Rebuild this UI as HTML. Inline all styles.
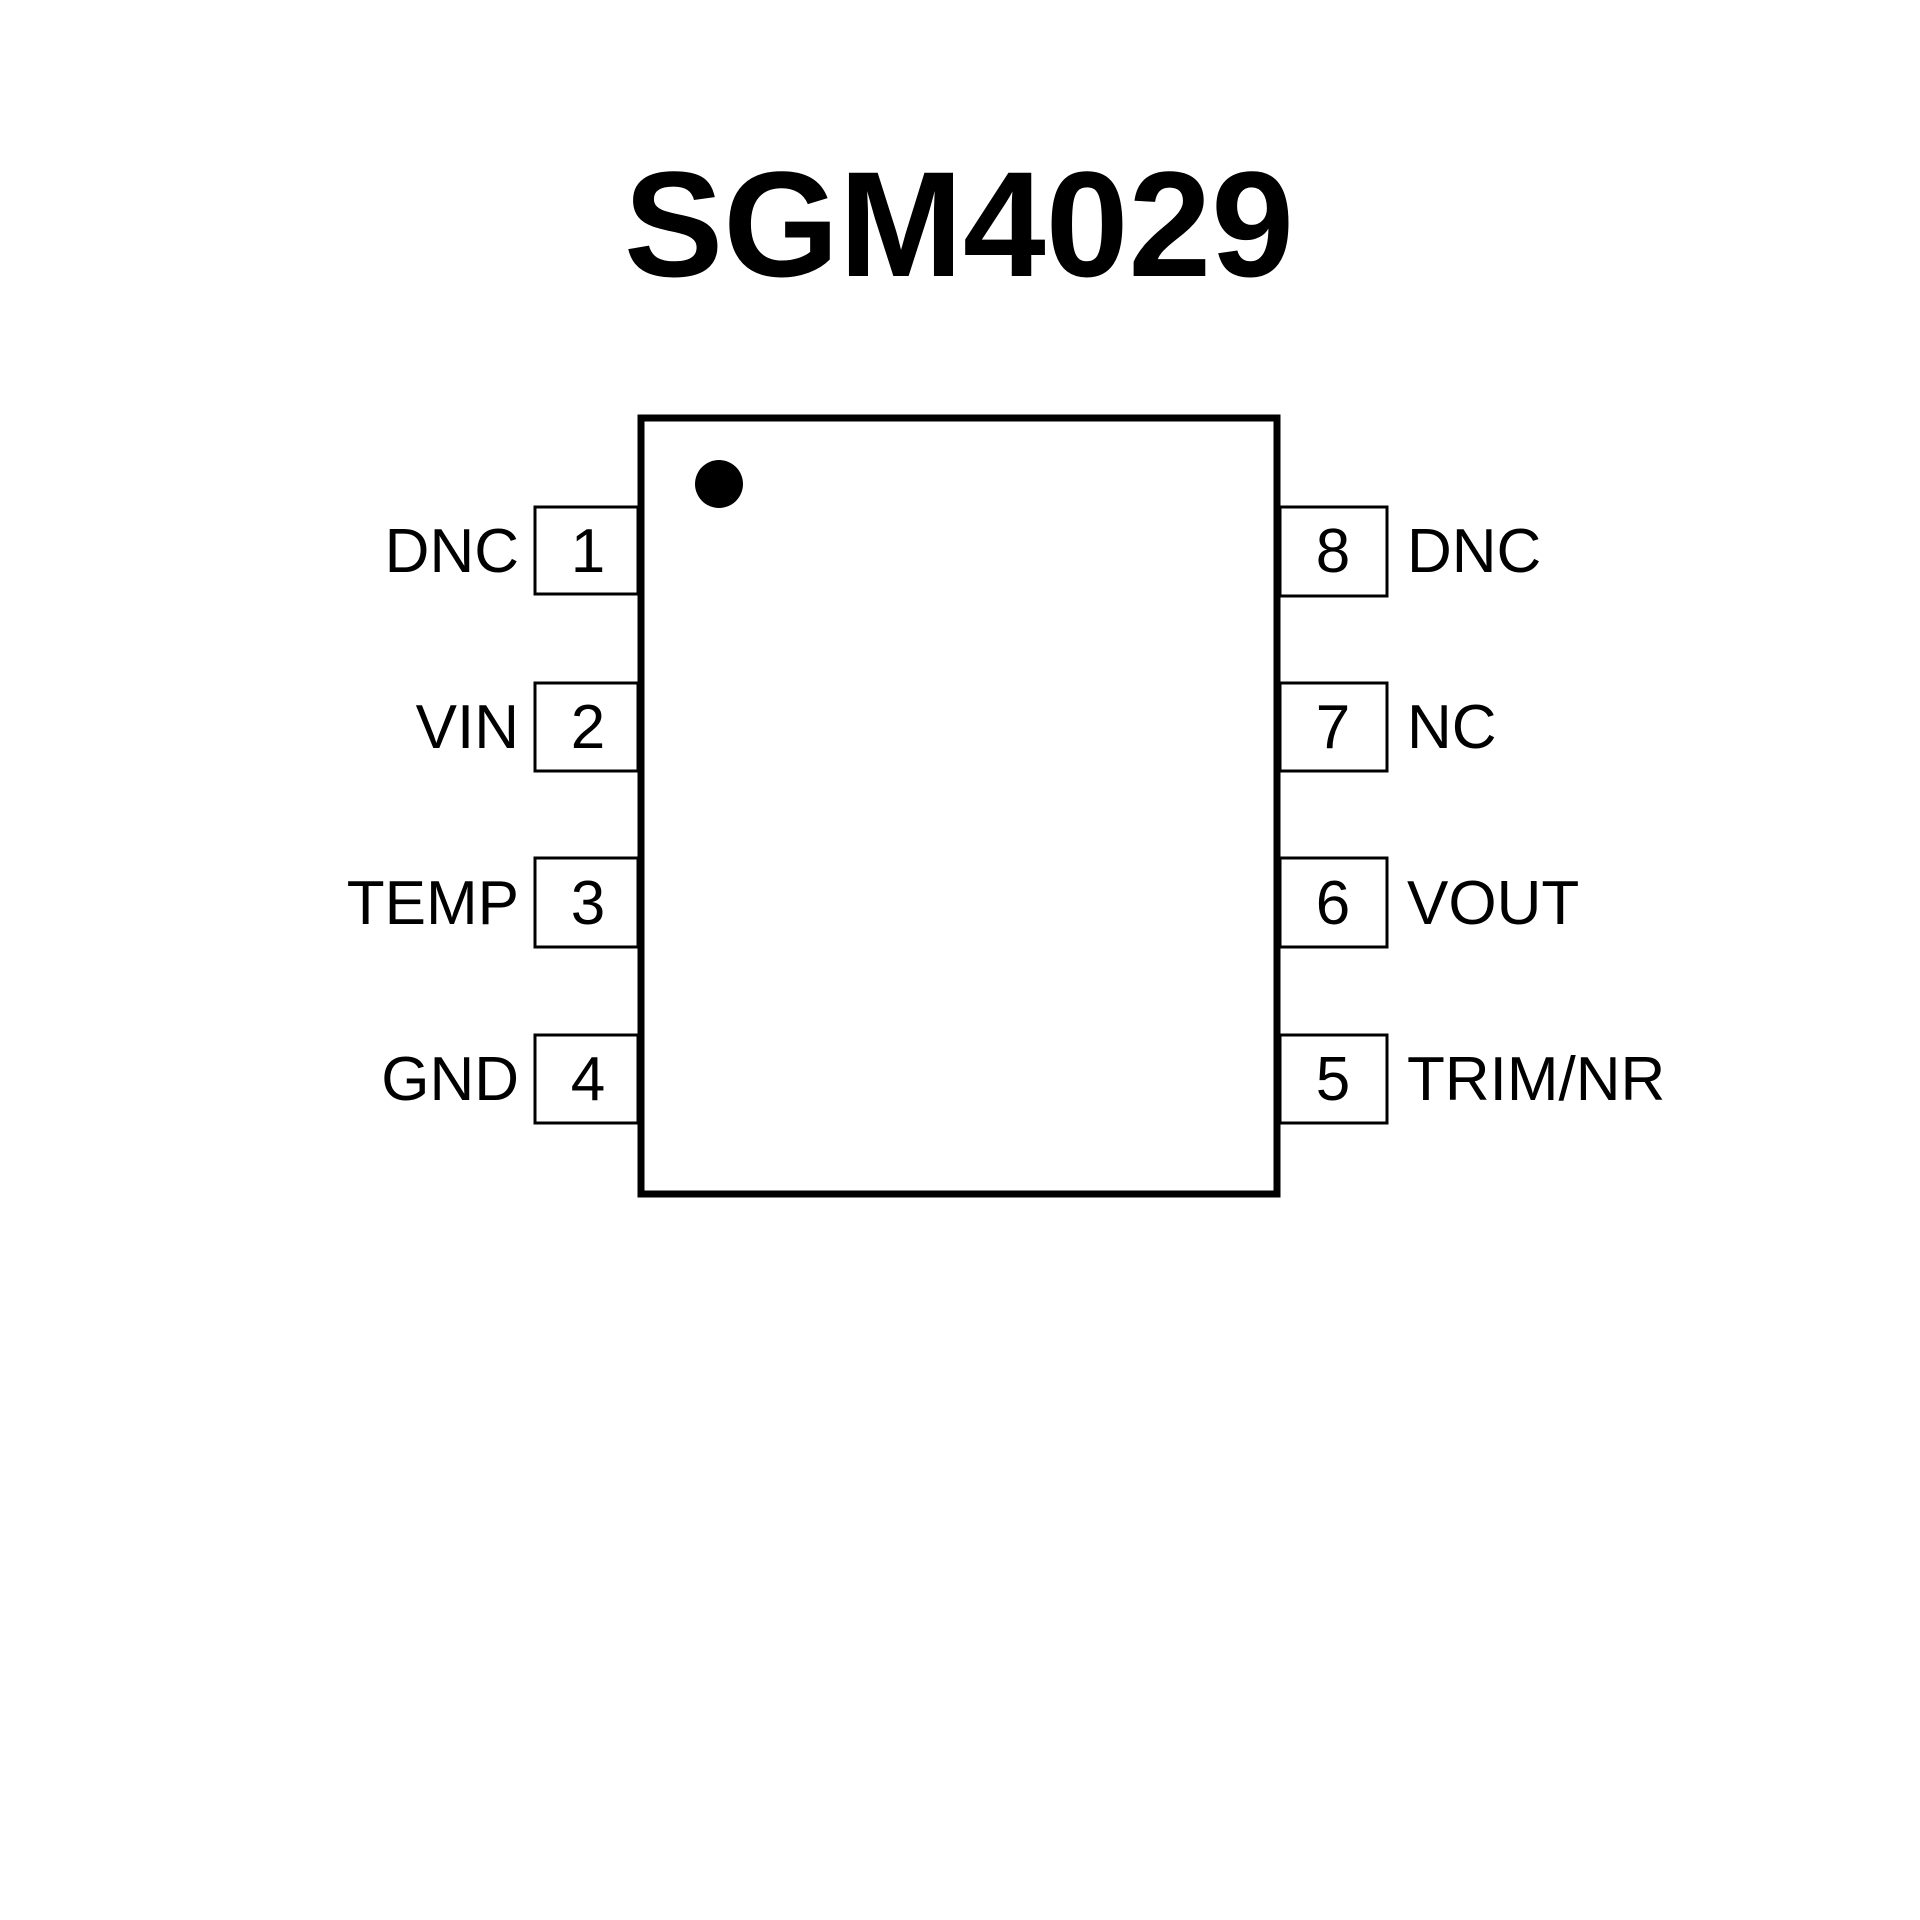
<!DOCTYPE html>
<html><head><style>html,body{margin:0;padding:0;background:#fff}svg{display:block}</style></head>
<body>
<svg width="1920" height="1920" viewBox="0 0 1920 1920" xmlns="http://www.w3.org/2000/svg">
<rect width="1920" height="1920" fill="#fff"/>
<text x="959" y="276" text-anchor="middle" font-family="Liberation Sans, sans-serif" font-weight="bold" font-size="150" textLength="670" lengthAdjust="spacingAndGlyphs" fill="#000">SGM4029</text>
<rect x="641" y="418" width="636" height="776" fill="none" stroke="#000" stroke-width="7"/>
<circle cx="719" cy="484" r="24" fill="#000"/>
<g fill="none" stroke="#000" stroke-width="3">
<rect x="535" y="507" width="103" height="87"/>
<rect x="535" y="683" width="103" height="88"/>
<rect x="535" y="858" width="103" height="89"/>
<rect x="535" y="1035" width="103" height="88"/>
<rect x="1280" y="507" width="107" height="89"/>
<rect x="1280" y="683" width="107" height="88"/>
<rect x="1280" y="858" width="107" height="89"/>
<rect x="1280" y="1035" width="107" height="88"/>
</g>
<g font-family="Liberation Sans, sans-serif" font-size="62" fill="#000">
<g text-anchor="middle">
<text x="588" y="572">1</text><text x="588" y="748">2</text><text x="588" y="924">3</text><text x="588" y="1100">4</text>
<text x="1333" y="572">8</text><text x="1333" y="748">7</text><text x="1333" y="924">6</text><text x="1333" y="1100">5</text>
</g>
<g text-anchor="end">
<text x="519" y="572">DNC</text><text x="519" y="748">VIN</text><text x="519" y="924">TEMP</text><text x="519" y="1100">GND</text>
</g>
<text x="1407" y="572">DNC</text><text x="1407" y="748">NC</text><text x="1407" y="924">VOUT</text><text x="1407" y="1100">TRIM/NR</text>
</g>
</svg>
</body></html>
